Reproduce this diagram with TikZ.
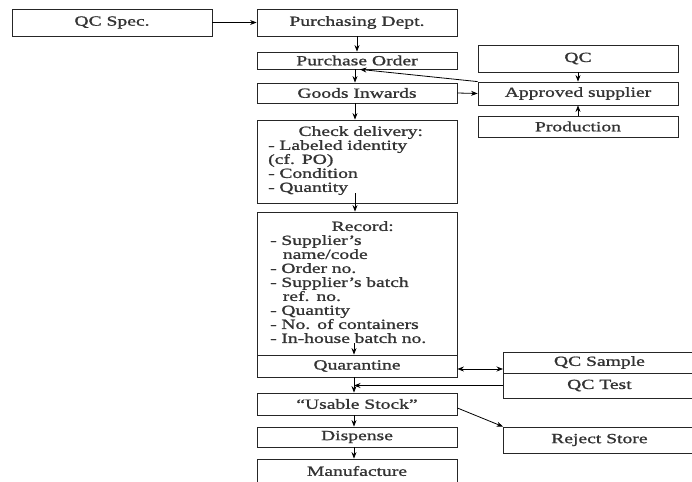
\documentclass[tikz,border=0pt]{standalone}
\usepackage{fontspec}
\setmainfont{Liberation Serif}[FakeStretch=1.4,FakeBold=1.2]
\usetikzlibrary{arrows.meta}
\begin{document}
\begin{tikzpicture}[x=1pt,y=-1pt,
  box/.style={draw=black!85, line width=0.8pt, minimum width=200pt, inner sep=0pt, font=\fontsize{14}{14}\selectfont, text=black!80},
  txt/.style={inner sep=0pt, text width=185pt, font=\fontsize{14}{14}\selectfont, text=black!80},
  arr/.style={line width=0.8pt, -{Stealth[length=6.5pt,width=5pt]}},
  darr/.style={line width=0.8pt, {Stealth[length=6.5pt,width=5pt]}-{Stealth[length=6.5pt,width=5pt]}}]
\useasboundingbox (0,0) rectangle (692,481);
% left / main column
\node[box, minimum height=27pt] (qcspec) at (112,22.5) {QC Spec.};
\node[box, minimum height=27pt] (purch) at (357,22.5) {Purchasing Dept.};
\node[box, minimum height=17pt] (po) at (357,60.5) {Purchase Order};
\node[box, minimum height=20pt] (goods) at (357,93) {Goods Inwards};
\node[box, minimum height=83pt] (check) at (357,161.5) {};
\node[box, minimum height=143pt] (record) at (357,283.5) {};
\node[box, minimum height=22pt] (quar) at (357,366) {Quarantine};
\node[box, minimum height=22pt] (usable) at (357,404) {“Usable Stock”};
\node[box, minimum height=20pt] (dispense) at (357,437) {Dispense};
\node[box, minimum height=24pt] (manuf) at (357,471) {Manufacture};
\node[txt, anchor=north west] (checkt) at (268,126) {\centering Check delivery:\par
\raggedright - Labeled identity\\(cf. PO)\\- Condition\\- Quantity};
\node[txt, anchor=north west] (recordt) at (270,221) {\centering Record:\par
\raggedright - Supplier’s\\\hspace*{0.9em}name/code\\- Order no.\\- Supplier’s batch\\\hspace*{0.9em}ref. no.\\- Quantity\\- No. of containers\\- In-house batch no.};
% right column
\node[box, minimum height=27pt] (qc) at (578,58.5) {QC};
\node[box, minimum height=23pt] (approved) at (578,93.5) {Approved supplier};
\node[box, minimum height=21pt] (production) at (578,126.5) {Production};
\node[box, minimum height=21pt, minimum width=192pt, anchor=west] (qcsample) at (503,362.5) {QC Sample};
\node[box, minimum height=25pt, minimum width=192pt, anchor=west] (qctest) at (503,385.5) {QC Test};
\node[box, minimum height=26pt, minimum width=192pt, anchor=west] (reject) at (503,440) {Reject Store};
% connectors
\draw[arr] (qcspec.east) -- (purch.west);
\draw[arr] (purch.south) -- (po.north);
\draw[arr] ([xshift=-2pt]po.south) -- ([xshift=-2pt]goods.north);
\draw[arr] (approved.north west) -- ([xshift=3pt]po.south);
\draw[arr] (goods.east) -- (approved.west);
\draw[arr] (qc.south) -- (approved.north);
\draw[arr] (production.north) -- (approved.south);
\draw[arr] ([xshift=-2pt]goods.south) -- ([xshift=-2pt]check.north);
\draw[arr] ([xshift=-2pt,yshift=10pt]check.south) -- ([xshift=-2pt]record.north);
\draw[arr] ([xshift=-3pt,yshift=12pt]record.south) -- ([xshift=-3pt]quar.north);
\draw[arr] ([xshift=-3pt]quar.south) -- ([xshift=-3pt]usable.north);
\coordinate (qtj) at ([xshift=-3pt]quar.south |- qctest.west);
\draw[arr] (qctest.west) -- (qtj);
\draw[darr] ([yshift=-3pt]quar.east) -- ([yshift=-3pt]quar.east -| qcsample.west);
\draw[arr] ([yshift=-4pt]usable.east) -- (reject.north west);
\draw[arr] ([xshift=-3pt]usable.south) -- ([xshift=-3pt]dispense.north);
\draw[arr] ([xshift=-3pt]dispense.south) -- ([xshift=-3pt]manuf.north);
\end{tikzpicture}
\end{document}
